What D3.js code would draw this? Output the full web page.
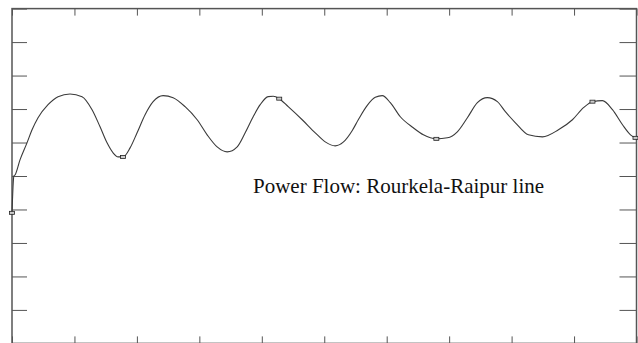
<!DOCTYPE html>
<html>
<head>
<meta charset="utf-8">
<script src="https://cdn.jsdelivr.net/npm/d3@7"></script>
<style>
  html, body { margin: 0; padding: 0; background: #fff; }
  svg { display: block; }
</style>
</head>
<body>
<div id="chart"></div>
<script>
// time axis (0..10 grid units) and power flow (grid units)
const timeVals = [0, 0.03, 0.048, 0.128, 0.24, 0.321, 0.417, 0.577, 0.737, 0.929, 1.122, 1.282, 1.41, 1.522,
  1.619, 1.699, 1.779, 1.891, 2.003, 2.131, 2.26, 2.42, 2.58, 2.772, 2.965, 3.125, 3.285, 3.446, 3.606,
  3.734, 3.862, 3.974, 4.103, 4.183, 4.279, 4.423, 4.647, 4.856, 5.016, 5.176, 5.304, 5.449, 5.545,
  5.689, 5.817, 5.929, 6.058, 6.218, 6.426, 6.587, 6.795, 6.971, 7.131, 7.292, 7.452, 7.612, 7.772,
  7.9, 8.061, 8.269, 8.494, 8.75, 8.974, 9.151, 9.295, 9.455, 9.615, 9.776, 9.904, 9.984]
const powerVals = [3.9, 5.0, 5.03, 5.48, 5.99, 6.38, 6.74, 7.13, 7.37, 7.45, 7.37, 6.98, 6.47, 5.99,
  5.69, 5.57, 5.57, 5.84, 6.29, 6.83, 7.22, 7.4, 7.34, 7.07, 6.68, 6.23, 5.87, 5.72, 5.87,
  6.29, 6.77, 7.13, 7.37, 7.38, 7.31, 7.07, 6.68, 6.29, 6.02, 5.9, 6.01, 6.36, 6.68,
  7.11, 7.35, 7.4, 7.19, 6.77, 6.44, 6.23, 6.11, 6.14, 6.32, 6.74, 7.19, 7.34, 7.22,
  6.92, 6.59, 6.23, 6.17, 6.38, 6.68, 7.04, 7.22, 7.25, 6.98, 6.53, 6.23, 6.14]
// indices of points that carry a square marker
const markerIdx = [0, 16, 34, 50, 64, 69]
const xTicks = d3.range(0, 11)
const yTicks = d3.range(0, 11)
const title = "Power Flow: Rourkela-Raipur line"

const width = 638, height = 343
const mLeft = 12, mRight = 636.5, mTop = 8.6, mBottom = 343.4

const svg = d3.select("#chart").append("svg")
  .attr("width", width)
  .attr("height", height)

const x = d3.scaleLinear().domain([0, 10]).range([mLeft, mRight])
const y = d3.scaleLinear().domain([0, 10]).range([mBottom, mTop])

const axisColor = "#555"

// ticks on all four sides, pointing inward
svg.append("g").attr("transform", `translate(${mLeft},0)`)
  .call(d3.axisLeft(y).tickValues(yTicks).tickSize(-15).tickFormat(""))
svg.append("g").attr("transform", `translate(${mRight},0)`)
  .call(d3.axisRight(y).tickValues(yTicks).tickSize(-17).tickFormat(""))
svg.append("g").attr("transform", `translate(0,${mTop})`)
  .call(d3.axisTop(x).tickValues(xTicks).tickSize(-7).tickFormat(""))
svg.append("g").attr("transform", `translate(0,${mBottom})`)
  .call(d3.axisBottom(x).tickValues(xTicks).tickSize(-7).tickFormat(""))

svg.selectAll(".domain").remove()
svg.selectAll(".tick line").attr("stroke", axisColor).attr("stroke-width", 1)

svg.append("rect")
  .attr("x", mLeft).attr("y", mTop)
  .attr("width", mRight - mLeft).attr("height", mBottom - mTop)
  .attr("fill", "none")
  .attr("stroke", axisColor)
  .attr("stroke-width", 1.5)

const pts = timeVals.map((t, i) => [t, powerVals[i]])

const line = d3.line()
  .x(d => x(d[0]))
  .y(d => y(d[1]))
  .curve(d3.curveMonotoneX)

svg.append("path")
  .datum(pts)
  .attr("d", line)
  .attr("fill", "none")
  .attr("stroke", "#3a3a3a")
  .attr("stroke-width", 1.1)

svg.selectAll(".mark")
  .data(markerIdx.map(i => pts[i]))
  .join("rect")
  .attr("class", "mark")
  .attr("x", d => x(d[0]) - 2.5)
  .attr("y", d => y(d[1]) - 1.5)
  .attr("width", 5)
  .attr("height", 3)
  .attr("fill", "#ccc")
  .attr("stroke", "#222")
  .attr("stroke-width", 0.8)

svg.append("text")
  .attr("x", 253)
  .attr("y", 193)
  .attr("font-family", "'Liberation Serif', 'Times New Roman', serif")
  .attr("font-size", 21)
  .attr("fill", "#111")
  .text(title)
</script>
</body>
</html>
